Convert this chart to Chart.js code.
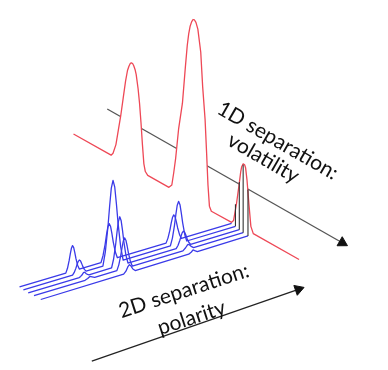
<!DOCTYPE html>
<html lang="en">
<head>
  <meta charset="UTF-8">
  <title>1D / 2D separation</title>
  <script src="https://cdn.jsdelivr.net/npm/chart.js"></script>
  <style>
    body {
      margin: 0;
      background: #fff;
    }
    #wrap {
      width: 388px;
      height: 370px;
    }
  </style>
</head>
<body>
  <div id="wrap"><canvas id="sep" width="388" height="370"></canvas></div>

  <script>
    // ---------------- data (diagram units) ---------------- //
    // 1D chromatogram (red), running down along the volatility axis
    const redTrace = [
      [69, 132], [108, 154],
      [110, 152], [113, 143], [115.5, 128], [118, 113], [120.5, 95], [123, 77], [125, 66], [126.5, 61.5], [128, 58.5], [129, 58],
      [130.3, 58.7], [131.5, 61], [133, 65.5], [134, 70], [136, 85], [137.5, 100], [139, 120], [140.5, 143], [142, 163], [143.5, 171], [146, 175],
      [168, 187.4],
      [171, 185], [173, 172], [175, 157], [178, 127], [182, 100], [185, 63], [187, 40], [188.5, 28], [190, 20], [191.5, 15.5], [193, 13],
      [194.5, 13.5], [196, 16], [198, 23], [201, 47], [203, 83], [205.5, 117], [207, 150], [208.5, 185], [210, 207], [212, 212.3],
      [233, 223.8],
      [235, 222], [238, 205], [241, 183], [242.5, 171], [243.5, 166], [245, 163], [246.5, 164], [247.5, 167], [249, 180], [251, 205], [253, 228], [255.5, 235.5],
      [303, 262.4]
    ];
    // straight baseline under the red trace (the peaks hide what lies behind them)
    const redBase = [[69, 132], [303, 262.4]];

    // 2D chromatograms (blue), one per modulation, running up along the polarity axis
    const blue1 = [
      [13, 291],
      [61, 276.6], [62.75, 271.6], [64.5, 263.4], [65.7, 256.4], [66.8, 250.8], [68, 248], [69.2, 250], [70.3, 255], [71.5, 261.3], [73.25, 268.4], [75, 272.4],
      [97.5, 265.7], [99.6, 258.5], [101.75, 246.9], [103.2, 236.9], [104.55, 228.9], [106, 225.1], [107.45, 228.1], [108.8, 235.3], [110.25, 244.3], [112.4, 254.7], [114.5, 260.6],
      [165, 245.4], [167, 240.2], [169, 231.8], [170.35, 224.6], [171.65, 218.8], [173, 216], [174.35, 218], [175.65, 223], [177, 229.4], [179, 236.6], [181, 240.6],
      [233, 225]
    ];
    const blue2 = [
      [17, 294],
      [68, 278.7], [69.75, 275.9], [71.5, 271.4], [72.7, 267.6], [73.8, 264.6], [75, 263], [76.2, 263.8], [77.3, 266.2], [78.5, 269.3], [80.25, 272.7], [82, 274.5],
      [99.5, 269.3], [102.1, 253.9], [104.75, 228.1], [106.55, 206], [108.2, 188.3], [110, 180.1], [111.8, 187.3], [113.45, 204], [115.25, 224.9], [117.9, 249.1], [120.5, 263],
      [169.5, 248.3], [171.6, 240.2], [173.75, 226.9], [175.2, 215.5], [176.55, 206.3], [178, 202], [179.45, 205.5], [180.8, 213.9], [182.25, 224.3], [184.4, 236.4], [186.5, 243.2],
      [237, 228]
    ];
    const blue3 = [
      [22, 297],
      [75, 281.2], [76.4, 280], [77.75, 278.6], [78.5, 277.4], [79.2, 276.3], [80, 275.7], [80.8, 275.9], [81.5, 276.5], [82.25, 277.2], [83.6, 278], [85, 278.3],
      [108.5, 271.2], [110.6, 261.9], [112.75, 246.6], [114.2, 233.5], [115.55, 223], [117, 218], [118.45, 222.2], [119.8, 231.9], [121.25, 244], [123.4, 258.1], [125.5, 266.1],
      [175.5, 251.2], [177.4, 247.9], [179.25, 242.7], [180.5, 238.4], [181.7, 234.8], [183, 233], [184.3, 234], [185.5, 236.9], [186.75, 240.5], [188.6, 244.5], [190.5, 246.7],
      [241, 231.5]
    ];
    const blue4 = [
      [28, 300],
      [81, 284], [83.7, 282.2], [86, 280], [88.3, 280.4], [91, 281.1],
      [114, 274], [116, 268], [118, 258.3], [119.35, 250], [120.65, 243.2], [122, 240], [123.35, 242.4], [124.65, 248.4], [126, 255.9], [128, 264.4], [130, 269.2],
      [182.5, 253.4], [185.3, 250.2], [187.1, 247.4], [188, 246.7], [188.9, 246.9], [190.7, 248.5], [193.5, 250.1],
      [245, 234.5]
    ];
    const blue5 = [
      [35, 304],
      [121, 277.6], [123.4, 274.6], [125.5, 269.8], [127, 267.8], [128.5, 269], [130.6, 272.3], [133, 273.9],
      [188.5, 256.9], [191.3, 254.6], [193, 252.5], [194.7, 253.2], [197.5, 254.2],
      [250, 238]
    ];
    const blueTraces = [blue1, blue2, blue3, blue4, blue5];

    // modulation slices of the last red peak (black uprights)
    const sliceX = [237, 241, 245, 250];
    const sliceBottom = [228, 231.5, 234.5, 238];
    const sliceTop = [205, 182, 164, 190];

    // axes
    const axis1D = [[104, 106], [347.8, 245]];
    const axis2D = [[88, 368], [302.3, 293.5]];

    const axisTexts = [
      { text: '1D separation:', x: 281, y: 139, angle: 30 },
      { text: 'volatility', x: 266, y: 157, angle: 30 },
      { text: '2D separation:', x: 183.5, y: 295, angle: -18 },
      { text: 'polarity', x: 191.5, y: 323, angle: -18 }
    ];

    // ---------------- chart ---------------- //
    const pts = arr => arr.map(p => ({ x: p[0], y: p[1] }));

    const RED = '#ee4856';
    const BLUE = '#3a3ae8';

    const datasets = [];

    datasets.push({
      label: '1D axis',
      data: pts(axis1D),
      borderColor: '#555',
      borderWidth: 1.3,
      pointRadius: [0, 6],
      pointStyle: 'triangle',
      pointRotation: [0, 119.7],
      pointBackgroundColor: '#111',
      pointBorderColor: '#111',
      pointBorderWidth: 1,
      order: 6
    });

    datasets.push({
      label: 'red base',
      data: pts(redBase),
      borderColor: 'rgba(0,0,0,0)',
      borderWidth: 1,
      pointRadius: 0,
      order: 5
    });

    datasets.push({
      label: '1D chromatogram',
      data: pts(redTrace),
      borderColor: RED,
      borderWidth: 1.3,
      borderJoinStyle: 'round',
      pointRadius: 0,
      fill: { target: 1 },
      backgroundColor: '#fff',
      order: 4
    });

    blueTraces.forEach((t, i) => {
      datasets.push({
        label: '2D chromatogram ' + (i + 1),
        data: pts(t),
        borderColor: BLUE,
        borderWidth: 1.3,
        borderJoinStyle: 'round',
        pointRadius: 0,
        order: 3
      });
    });

    sliceX.forEach((x, i) => {
      datasets.push({
        label: 'slice ' + (i + 1),
        data: [{ x: x, y: sliceBottom[i] }, { x: x, y: sliceTop[i] }],
        borderColor: '#333',
        borderWidth: 1.1,
        pointRadius: 0,
        order: 2
      });
    });

    datasets.push({
      label: '2D axis',
      data: pts(axis2D),
      borderColor: '#222',
      borderWidth: 1.2,
      pointRadius: [0, 6],
      pointStyle: 'triangle',
      pointRotation: [0, 70.8],
      pointBackgroundColor: '#111',
      pointBorderColor: '#111',
      pointBorderWidth: 1,
      order: 1
    });

    const textPlugin = {
      id: 'axisText',
      afterDatasetsDraw(chart) {
        const { ctx, scales: { x, y } } = chart;
        ctx.save();
        ctx.fillStyle = '#111';
        ctx.font = '21px Lato';
        ctx.textAlign = 'center';
        ctx.textBaseline = 'middle';
        axisTexts.forEach(t => {
          ctx.save();
          ctx.translate(x.getPixelForValue(t.x), y.getPixelForValue(t.y));
          ctx.rotate(t.angle * Math.PI / 180);
          ctx.fillText(t.text, 0, 0);
          ctx.restore();
        });
        ctx.restore();
      }
    };

    new Chart(document.getElementById('sep'), {
      type: 'scatter',
      data: { datasets: datasets },
      options: {
        responsive: false,
        animation: false,
        showLine: true,
        layout: { padding: 0 },
        events: [],
        scales: {
          x: { type: 'linear', min: 0, max: 388, display: false },
          y: { type: 'linear', min: 0, max: 370, reverse: true, display: false }
        },
        plugins: {
          legend: { display: false },
          tooltip: { enabled: false }
        }
      },
      plugins: [textPlugin]
    });
  </script>
</body>
</html>
